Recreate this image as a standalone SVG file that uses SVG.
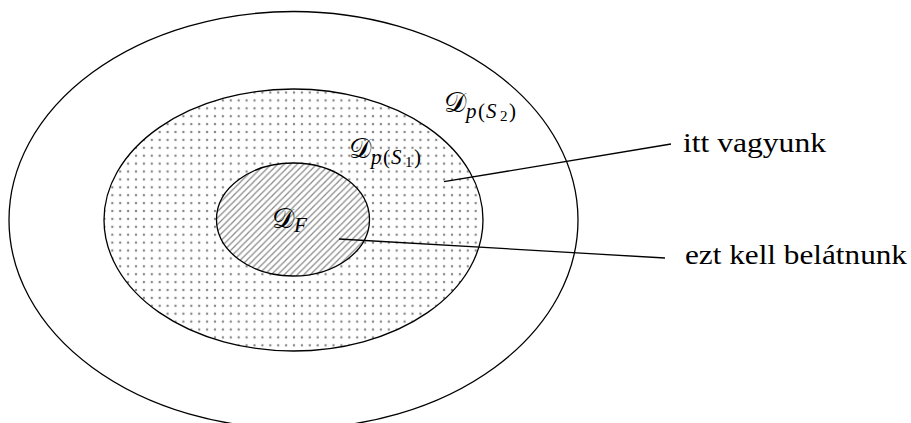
<svg xmlns="http://www.w3.org/2000/svg" width="911" height="423" viewBox="0 0 911 423">
<style>
.ell{stroke:#000;stroke-width:1.3}
.lead{stroke:#000;stroke-width:1.3;fill:none}
.t{font-family:'Liberation Serif',serif;fill:#000}
.big{font-size:28px}
.sub{font-size:21px}
.ss{font-size:15px}
.it{font-style:italic}
</style>
<defs>
<pattern id="dots" patternUnits="userSpaceOnUse" x="108.35" y="183.35" width="7.9" height="7.9">
<circle cx="3.95" cy="3.95" r="1.25" fill="#888"/>
</pattern>
<pattern id="hatch" patternUnits="userSpaceOnUse" x="0" y="0" width="6.5" height="6.5">
<path d="M-1,1 L1,-1 M0,6.5 L6.5,0 M5.5,7.5 L7.5,5.5" stroke="#888" stroke-width="1.2"/>
</pattern>
</defs>
<g id="outer">
<ellipse class="ell" cx="293.5" cy="220" rx="284.5" ry="208.5" fill="#fff"/>
</g>
<g id="middle">
<ellipse cx="293.5" cy="220" rx="189.5" ry="131" fill="#fff"/>
<ellipse class="ell" cx="293.5" cy="220" rx="189.5" ry="131" fill="url(#dots)"/>
</g>
<g id="inner">
<ellipse cx="293" cy="219.5" rx="76.5" ry="56.5" fill="#fff"/>
<ellipse class="ell" cx="293" cy="219.5" rx="76.5" ry="56.5" fill="url(#hatch)"/>
</g>
<g id="labels">
<text class="t big" x="444" y="112">𝒟</text>
<text class="t sub it" x="466" y="118">p</text>
<text class="t sub" x="478" y="118">(</text>
<text class="t sub it" x="486" y="118">S</text>
<text class="t ss" x="500" y="121">2</text>
<text class="t sub" x="509" y="118">)</text>
<text class="t big" x="349" y="158">𝒟</text>
<text class="t sub it" x="371" y="164">p</text>
<text class="t sub" x="383" y="164">(</text>
<text class="t sub it" x="391" y="164">S</text>
<text class="t ss" x="405" y="167">1</text>
<text class="t sub" x="414" y="164">)</text>
<text class="t big" x="272" y="228">𝒟</text>
<text class="t sub it" x="294" y="232">F</text>
</g>
<g id="connectors">
<line class="lead" x1="444" y1="181.7" x2="671" y2="144"/>
<line class="lead" x1="339" y1="239" x2="665" y2="258"/>
</g>
<g id="callouts">
<text class="t big" x="683" y="151.5" textLength="143" lengthAdjust="spacingAndGlyphs">itt vagyunk</text>
<text class="t big" x="685" y="263.5" textLength="222" lengthAdjust="spacingAndGlyphs">ezt kell belátnunk</text>
</g>
</svg>
